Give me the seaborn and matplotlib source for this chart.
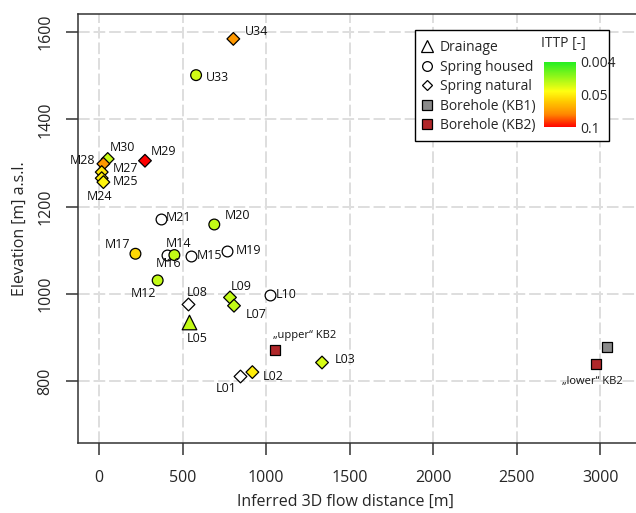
import numpy as np
import pandas as pd
import matplotlib
matplotlib.use("Agg")
import matplotlib.pyplot as plt
import seaborn as sns
from matplotlib.colors import LinearSegmentedColormap, TwoSlopeNorm
from matplotlib.lines import Line2D
from matplotlib.patches import Rectangle
from matplotlib.cm import ScalarMappable

# === Data ===
names = ["U34", "U33", "M30", "M28", "M27", "M25", "M24", "M29",
         "M21", "M20", "M17", "M16", "M14", "M15", "M19", "M12",
         "L08", "L05", "L09", "L07", "L10", "L03", "L02", "L01",
         "KB2u", "KB1", "KB2l"]
distance = [804, 581, 52, 26, 16, 16, 26, 275,
            369, 690, 218, 409, 451, 551, 765, 351,
            535, 539, 784, 808, 1024, 1335, 918, 844,
            1054, 3042, 2976]
elevation = [1584, 1501, 1309, 1298, 1279, 1265, 1256, 1305,
             1172, 1159, 1092, 1089, 1089, 1088, 1098, 1031,
             978, 935, 992, 973, 998, 843, 821, 812,
             871, 878, 840]
ittp = [0.075, 0.037, 0.035, 0.075, 0.052, 0.05, 0.048, 0.1,
        np.nan, 0.034, 0.057, np.nan, 0.034, np.nan, np.nan, 0.034,
        np.nan, 0.034, 0.034, 0.034, np.nan, 0.038, 0.05, np.nan,
        np.nan, np.nan, np.nan]
kind = ["Spring natural", "Spring housed"] + ["Spring natural"] * 6 + \
       ["Spring housed"] * 8 + \
       ["Spring natural", "Drainage", "Spring natural", "Spring natural",
        "Spring housed", "Spring natural", "Spring natural", "Spring natural",
        "Borehole (KB2)", "Borehole (KB1)", "Borehole (KB2)"]

ittp_ticks = [0.004, 0.05, 0.1]

df = pd.DataFrame({"name": names, "dist": distance, "elev": elevation,
                   "ittp": ittp, "kind": kind})

# === Styles ===
markers = {"Drainage": "^", "Spring housed": "o", "Spring natural": "D",
           "Borehole (KB1)": "s", "Borehole (KB2)": "s"}
sizes = {"Drainage": 110, "Spring housed": 60, "Spring natural": 42,
         "Borehole (KB1)": 48, "Borehole (KB2)": 48}
borehole_colors = {"Borehole (KB1)": "#8a8a8a", "Borehole (KB2)": "#b0272a"}

cmap = LinearSegmentedColormap.from_list(
    "ittp", [(0.0, "#22ee22"), (0.45, "#ffff11"), (0.6, "#ffcc00"),
             (0.8, "#ff8800"), (1.0, "#ff0000")])
norm = TwoSlopeNorm(vmin=0.004, vcenter=0.05, vmax=0.1)

# label offsets in pixels (dx, dy, ha)
label_pos = {
    "U34": (12, 7, "left"), "U33": (10, -2, "left"), "M30": (2, 11, "left"),
    "M28": (-8, 3, "right"), "M27": (11, 4, "left"), "M25": (11, -3, "left"),
    "M24": (-4, -14, "center"), "M29": (6, 9, "left"), "M21": (5, 1, "left"),
    "M20": (10, 9, "left"), "M17": (-5, 9, "right"), "M16": (1, -8, "center"),
    "M14": (4, 12, "center"), "M15": (6, 0, "left"), "M19": (9, 1, "left"),
    "M12": (-14, -13, "center"), "L08": (-2, 11, "left"), "L05": (-2, -16, "left"),
    "L09": (1, 11, "left"), "L07": (12, -9, "left"), "L10": (6, 0, "left"),
    "L03": (13, 3, "left"), "L02": (10, -4, "left"), "L01": (-14, -12, "center"),
    "KB2u": (-2, 15, "left"), "KB2l": (-4, -18, "center"),
}
label_text = {"KB2u": "\u201eupper\u201c KB2", "KB2l": "\u201elower\u201c KB2"}

sns.set_theme(style="white")
plt.rcParams["font.family"] = ["Open Sans", "DejaVu Sans"]

W, H = 636, 513
fig = plt.figure(figsize=(W / 100, H / 100), dpi=100)
ax = fig.add_axes([77.5 / W, 1 - 443.3 / H, (W - 77.5) / W, (443.3 - 14) / H])

# open (no ITTP) symbols first, then coloured ones, then boreholes
for k in ["Drainage", "Spring housed", "Spring natural"]:
    sub = df[(df["kind"] == k) & df["ittp"].isna()]
    if len(sub):
        sns.scatterplot(data=sub, x="dist", y="elev", color="white",
                        marker=markers[k], s=sizes[k], edgecolor="black",
                        linewidth=0.9, ax=ax, legend=False, zorder=3)
for k in ["Drainage", "Spring housed", "Spring natural"]:
    sub = df[(df["kind"] == k) & df["ittp"].notna()]
    if len(sub):
        sns.scatterplot(data=sub, x="dist", y="elev", hue="ittp",
                        palette=cmap, hue_norm=norm,
                        marker=markers[k], s=sizes[k], edgecolor="black",
                        linewidth=0.9, ax=ax, legend=False, zorder=4)
for k, c in borehole_colors.items():
    sub = df[df["kind"] == k]
    sns.scatterplot(data=sub, x="dist", y="elev", color=c,
                    marker="s", s=sizes[k], edgecolor="black",
                    linewidth=0.9, ax=ax, legend=False, zorder=4)

for _, r in df.iterrows():
    if r["name"] not in label_pos:
        continue
    dx, dy, ha = label_pos[r["name"]]
    small = r["name"] in label_text
    ax.annotate(label_text.get(r["name"], r["name"]), (r["dist"], r["elev"]),
                xytext=(dx, dy), textcoords="offset pixels", ha=ha,
                va="center", fontsize=8 if small else 9, color="#111111",
                zorder=5)

ax.set_xlim(-129, 3215)
ax.set_ylim(658, 1641)
ax.set_xticks(np.arange(0, 3001, 500))
ax.set_yticks(np.arange(800, 1601, 200))
ax.grid(True, color="#dedede", linewidth=1.4, linestyle=(0, (6, 2)))
ax.set_axisbelow(True)
for s in ["left", "bottom", "top"]:
    ax.spines[s].set_color("#333333")
    ax.spines[s].set_linewidth(1.1)
ax.spines["right"].set_visible(False)
ax.tick_params(direction="out", length=8.5, width=1.1, color="#333333",
               labelsize=11.5, left=True, bottom=True)
ax.tick_params(axis="x", pad=11)
ax.tick_params(axis="y", pad=9, labelrotation=90)
plt.setp(ax.get_yticklabels(), va="center")

ax.set_xlabel("Inferred 3D flow distance [m]", fontsize=11.5)
ax.set_ylabel("Elevation [m] a.s.l.", fontsize=11.5)
ax.xaxis.set_label_coords(345 / W, 1 - 502 / H, transform=fig.transFigure)
ax.xaxis.label.set_va("center")
ax.yaxis.set_label_coords(20 / W, 1 - 228.6 / H, transform=fig.transFigure)
ax.yaxis.label.set_va("center")

# === legend box ===
frame = Rectangle((415 / W, 1 - 140.7 / H), 194 / W, 110.7 / H,
                  transform=fig.transFigure, facecolor="white",
                  edgecolor="black", linewidth=1.0, zorder=1)
fig.add_artist(frame)

handles = [
    Line2D([], [], ls="", marker="^", ms=8, mfc="white", mec="black", mew=0.9),
    Line2D([], [], ls="", marker="o", ms=7, mfc="white", mec="black", mew=0.9),
    Line2D([], [], ls="", marker="D", ms=5.5, mfc="white", mec="black", mew=0.9),
    Line2D([], [], ls="", marker="s", ms=7, mfc=borehole_colors["Borehole (KB1)"], mec="black", mew=0.9),
    Line2D([], [], ls="", marker="s", ms=7, mfc=borehole_colors["Borehole (KB2)"], mec="black", mew=0.9),
]
labels = ["Drainage", "Spring housed", "Spring natural", "Borehole (KB1)", "Borehole (KB2)"]
leg = fig.legend(handles, labels, loc="upper left",
                 bbox_to_anchor=(420.4 / W, 1 - 40 / H), frameon=False,
                 fontsize=10, handlelength=1.0, handletextpad=0.4,
                 labelspacing=0.33, borderpad=0, borderaxespad=0)
leg.set_zorder(6)

cax = fig.add_axes([544 / W, 1 - 127.3 / H, 31.7 / W, 65.6 / H])
cax.set_zorder(3)
cb = fig.colorbar(ScalarMappable(norm=norm, cmap=cmap), cax=cax, ticks=ittp_ticks)
cax.invert_yaxis()
cb.outline.set_visible(False)
cax.tick_params(length=0, labelsize=10, pad=3)
cb.set_ticklabels(["0.004", "0.05", "0.1"])
fig.text(563 / W, 1 - 44 / H, "ITTP [-]", ha="center", va="center",
         fontsize=10, zorder=6)

fig.savefig("out.png", dpi=100)
